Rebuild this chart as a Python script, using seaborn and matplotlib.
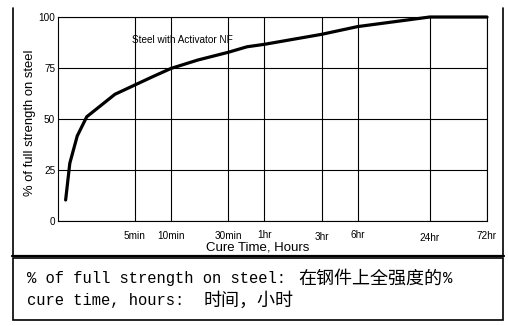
import numpy as np
import pandas as pd
import matplotlib
matplotlib.use("Agg")
import matplotlib.pyplot as plt
import seaborn as sns
from matplotlib.lines import Line2D
from matplotlib.patches import Rectangle
from matplotlib.ticker import NullLocator
from matplotlib.transforms import ScaledTranslation

# ---- data ----
cure_minutes = [1.32, 1.43, 1.65, 1.98, 3.4, 5, 7, 10, 16.7, 30, 43, 60, 180, 360, 1440, 4320]
strength_pct = [10.3, 28.3, 41.7, 51.1, 62.1, 66.7, 70.7, 74.8, 78.9, 82.7, 85.4, 86.6, 91.5, 95.3, 100, 100]
tick_minutes = [5, 10, 30, 60, 180, 360, 1440, 4320]
tick_labels = ["5min", "10min", "30min", "1hr", "3hr", "6hr", "24hr", "72hr"]
y_ticks = [0, 25, 50, 75, 100]
y_tick_labels = ["0", "25", "50", "75", "100"]

sns.set_theme(style="white")
plt.rcParams["font.family"] = ["Liberation Sans", "DejaVu Sans"]

W, H = 509, 326
def fx(px):
    return px / W
def fy(py):
    return 1 - py / H

fig = plt.figure(figsize=(W / 100, H / 100), dpi=100)
fig.patch.set_facecolor("white")
ax = fig.add_axes([fx(58), fy(221), (487 - 58) / W, (221 - 17) / H])

df = pd.DataFrame({"minutes": cure_minutes, "strength": strength_pct})
sns.lineplot(data=df, x="minutes", y="strength", color="black", linewidth=2.3,
             estimator=None, ax=ax)
for ln in ax.lines:
    ln.set_clip_on(False)
    ln.set_solid_joinstyle("round")

ax.set_xscale("log")
ax.set_xlim(1.14, 4320)
ax.set_ylim(0, 100)
ax.set_xticks(tick_minutes)
ax.set_xticklabels(tick_labels)
ax.xaxis.set_minor_locator(NullLocator())
ax.set_yticks(y_ticks)
ax.set_yticklabels(y_tick_labels)
ax.tick_params(length=0, labelsize=7.2, colors="black")
ax.tick_params(axis="x", pad=7)
ax.tick_params(axis="y", pad=2)
ax.grid(True, color="black", linewidth=0.8)
ax.set_axisbelow(True)
for s in ax.spines.values():
    s.set_color("black")
    s.set_linewidth(0.8)
ax.set_xlabel("")
ax.set_ylabel("")

# small vertical offsets of some tick labels (in px, positive = lower)
offsets = {"1hr": -1, "3hr": 1.5, "6hr": -1, "24hr": 2}
for lab in ax.get_xticklabels():
    d = offsets.get(lab.get_text(), 0)
    if d:
        lab.set_transform(lab.get_transform() + ScaledTranslation(0, -d / 100, fig.dpi_scale_trans))

ax.text(4.7, 88.7, "Steel with Activator NF", fontsize=7.2, ha="left", va="center", color="black")

fig.text(fx(258), fy(248), "Cure Time, Hours", ha="center", va="center", fontsize=9.5, color="black")
fig.text(fx(30), fy(123), "% of full strength on steel", rotation=90, ha="center", va="center",
         fontsize=9.4, color="black")

# outer frame
fig.add_artist(Line2D([fx(12.5), fx(12.5)], [fy(8), fy(256)], color="black", lw=1.2))
fig.add_artist(Line2D([fx(503), fx(503)], [fy(8), fy(256)], color="black", lw=1.2))
fig.add_artist(Line2D([fx(12), fx(503.5)], [fy(255.5), fy(255.5)], color="black", lw=1.6))
fig.add_artist(Rectangle((fx(12.5), fy(320)), (503 - 12.5) / W, (320 - 258) / H,
                         fill=False, ec="black", lw=1.2))

mono = ["Liberation Mono", "DejaVu Sans Mono"]
cjk = ["Noto Sans CJK SC", "DejaVu Sans"]
fig.text(fx(27), fy(283), "% of full strength on steel:", family=mono, fontsize=11.2,
         va="baseline", color="black")
fig.text(fx(298), fy(284), "在钢件上全强度的", family=cjk, fontsize=13, va="baseline", color="black")
fig.text(fx(443), fy(283), "%", family=mono, fontsize=11.2, va="baseline", color="black")
fig.text(fx(27), fy(305), "cure time, hours:", family=mono, fontsize=11.2,
         va="baseline", color="black")
fig.text(fx(204), fy(306), "时间，小时", family=cjk, fontsize=13, va="baseline", color="black")

fig.savefig("out.png", dpi=100)
